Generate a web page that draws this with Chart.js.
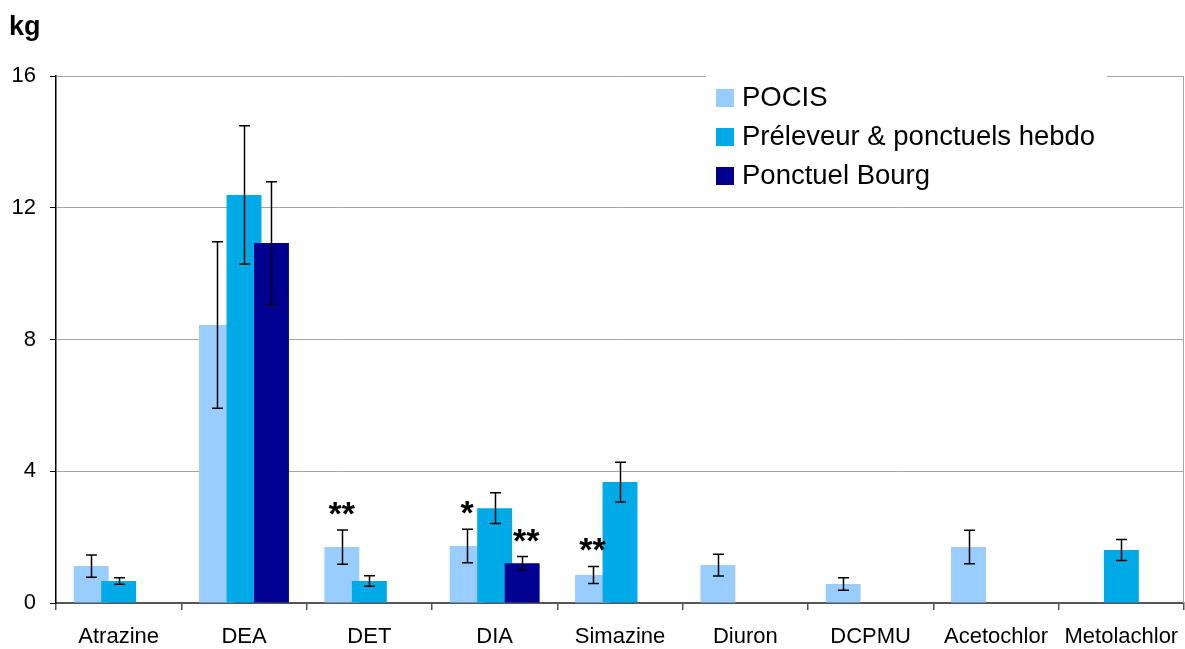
<!DOCTYPE html>
<html>
<head>
  <title>Flux de pesticides (kg)</title>
  <script src="https://cdn.jsdelivr.net/npm/chart.js"></script>
  <style>
    body { margin: 0; background: #fff; }
    #wrap { width: 1185px; height: 649px; }
  </style>
</head>
<body>
<div id="wrap"><canvas id="chart" width="1185" height="649"></canvas></div>
<script>
  const categories = ['Atrazine', 'DEA', 'DET', 'DIA', 'Simazine', 'Diuron', 'DCPMU', 'Acetochlor', 'Metolachlor'];

  const pocis        = [1.12, 8.44, 1.70, 1.73, 0.85, 1.15, 0.58, 1.70, null];
  const pocisErr     = [0.34, 2.53, 0.52, 0.51, 0.26, 0.33, 0.19, 0.51, null];
  const pocisSig     = ['', '', '**', '*', '**', '', '', '', ''];

  const preleveur    = [0.67, 12.39, 0.67, 2.88, 3.67, null, null, null, 1.61];
  const preleveurErr = [0.10, 2.10, 0.16, 0.47, 0.60, null, null, null, 0.32];
  const preleveurSig = ['', '', '', '', '', '', '', '', ''];

  const bourg        = [null, 10.93, null, 1.21, null, null, null, null, null];
  const bourgErr     = [null, 1.86, null, 0.20, null, null, null, null, null];
  const bourgSig     = ['', '', '', '**', '', '', '', '', ''];

  const yTicks = [0, 4, 8, 12, 16];

  const errors = [pocisErr, preleveurErr, bourgErr];
  const stars = [pocisSig, preleveurSig, bourgSig];

  Chart.defaults.font.family = '"Liberation Sans", Arial, sans-serif';
  Chart.defaults.font.size = 22;
  Chart.defaults.color = '#000';

  // bars in series order (later series on top), then error bars and stars
  const barsAndErrors = {
    id: 'barsAndErrors',
    beforeDatasetsDraw(chart) {
      const n = chart.data.datasets.length;
      for (let i = 0; i < n; i++) {
        const meta = chart.getDatasetMeta(i);
        if (!meta.hidden) meta.controller.draw();
      }
      const ctx = chart.ctx;
      const y = chart.scales.y;
      ctx.save();
      ctx.strokeStyle = '#000';
      ctx.lineWidth = 1.5;
      for (let i = 0; i < n; i++) {
        const meta = chart.getDatasetMeta(i);
        const vals = chart.data.datasets[i].data;
        meta.data.forEach((bar, j) => {
          const v = vals[j], e = errors[i][j];
          if (v == null || e == null) return;
          const x = Math.round(bar.x) + 0.5;
          const t = y.getPixelForValue(v + e), b = y.getPixelForValue(v - e);
          ctx.beginPath();
          ctx.moveTo(x, t); ctx.lineTo(x, b);
          ctx.moveTo(x - 5.5, t); ctx.lineTo(x + 5.5, t);
          ctx.moveTo(x - 5.5, b); ctx.lineTo(x + 5.5, b);
          ctx.stroke();
          const s = stars[i][j];
          if (s) {
            ctx.fillStyle = '#000';
            ctx.font = 'bold 34px "Liberation Sans", Arial, sans-serif';
            ctx.textAlign = 'center';
            ctx.textBaseline = 'alphabetic';
            ctx.fillText(s, bar.x + (i === 2 ? 4 : 0), t - 5);
          }
        });
      }
      ctx.restore();
      return false;
    },
    afterDraw(chart) {
      const ctx = chart.ctx;
      const area = chart.chartArea;
      ctx.save();
      // right frame line
      ctx.strokeStyle = '#a6a6a6';
      ctx.lineWidth = 1;
      ctx.beginPath();
      ctx.moveTo(area.right - 0.5, area.top);
      ctx.lineTo(area.right - 0.5, area.bottom);
      ctx.stroke();
      // unit
      ctx.fillStyle = '#000';
      ctx.font = 'bold 27px "Liberation Sans", Arial, sans-serif';
      ctx.textAlign = 'left';
      ctx.textBaseline = 'alphabetic';
      ctx.fillText('kg', 9, 35);
      // legend box
      ctx.fillStyle = '#fff';
      ctx.fillRect(706, 66, 401, 134);
      ctx.font = '27.5px "Liberation Sans", Arial, sans-serif';
      chart.data.datasets.forEach((ds, i) => {
        const top = 89 + i * 39;
        ctx.fillStyle = ds.backgroundColor;
        ctx.fillRect(716, top, 18, 18);
        ctx.fillStyle = '#000';
        ctx.fillText(ds.label, 742, top + 17);
      });
      ctx.restore();
    }
  };

  new Chart(document.getElementById('chart'), {
    type: 'bar',
    data: {
      labels: categories,
      datasets: [
        { label: 'POCIS', data: pocis, backgroundColor: '#99ccff' },
        { label: 'Préleveur & ponctuels hebdo', data: preleveur, backgroundColor: '#00aae6' },
        { label: 'Ponctuel Bourg', data: bourg, backgroundColor: '#000090' }
      ]
    },
    options: {
      responsive: false,
      animation: false,
      devicePixelRatio: 1,
      categoryPercentage: 0.658,
      barPercentage: 1.27,
      layout: { padding: { top: 76, right: 1, left: 0, bottom: 0 } },
      plugins: {
        legend: { display: false },
        tooltip: { enabled: false }
      },
      scales: {
        x: {
          offset: true,
          grid: { drawOnChartArea: false, offset: true, tickLength: 7, tickColor: '#555', lineWidth: 1.5 },
          border: { color: '#555', width: 2 },
          ticks: { padding: 14, maxRotation: 0, autoSkip: false },
          afterFit(scale) {
            scale.height = 46;
            scale.paddingLeft = 0;
            scale.paddingRight = 0;
          }
        },
        y: {
          min: 0,
          max: 16,
          afterBuildTicks(scale) { scale.ticks = yTicks.map(v => ({ value: v })); },
          grid: { color: '#a6a6a6', tickColor: '#000', tickLength: 6, lineWidth: 1 },
          border: { color: '#000', width: 1.5 },
          ticks: { padding: 14 },
          afterFit(scale) {
            scale.width = 56;
            scale.paddingTop = 0;
            scale.paddingBottom = 0;
          }
        }
      }
    },
    plugins: [barsAndErrors]
  });
</script>
</body>
</html>
